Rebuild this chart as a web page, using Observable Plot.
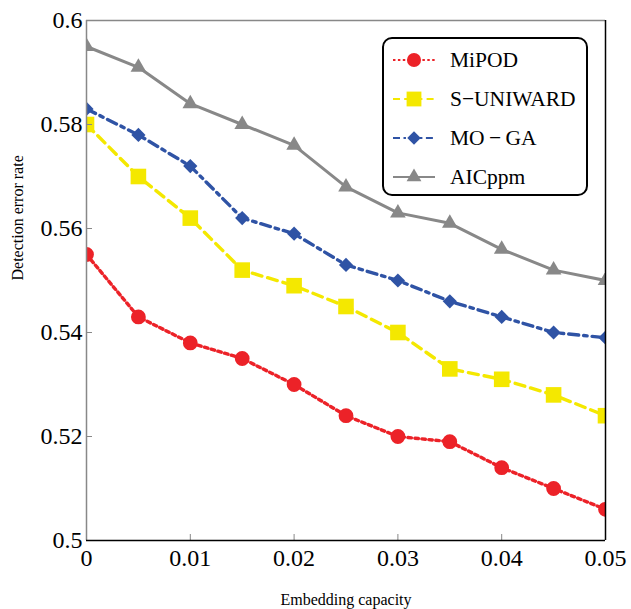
<!DOCTYPE html>
<html><head><meta charset="utf-8">
<script src="https://cdn.jsdelivr.net/npm/d3@7"></script>
<script src="https://cdn.jsdelivr.net/npm/@observablehq/plot@0.6"></script>
<style>
body{margin:0;background:#fff;}
#wrap{position:relative;width:631px;height:609px;}
#legend{position:absolute;left:382px;top:37px;width:202px;height:155px;border:2px solid #000;border-radius:10px;background:#fff;font-family:"Liberation Serif","Times New Roman",serif;font-size:21.5px;color:#000;}
.row{position:absolute;left:8px;height:24px;display:flex;align-items:center;}
.row svg{display:block;}
.row span{margin-left:14px;line-height:24px;}
</style>
</head><body>
<div id="wrap"><div id="chart"></div><div id="legend"></div></div>
<script>
// ---- data ----
const capacity = [0, 0.005, 0.01, 0.015, 0.02, 0.025, 0.03, 0.035, 0.04, 0.045, 0.05];
const mipod    = [0.555, 0.543, 0.538, 0.535, 0.530, 0.524, 0.520, 0.519, 0.514, 0.510, 0.506];
const suniward = [0.580, 0.570, 0.562, 0.552, 0.549, 0.545, 0.540, 0.533, 0.531, 0.528, 0.524];
const moga     = [0.583, 0.578, 0.572, 0.562, 0.559, 0.553, 0.550, 0.546, 0.543, 0.540, 0.539];
const aicppm   = [0.595, 0.591, 0.584, 0.580, 0.576, 0.568, 0.563, 0.561, 0.556, 0.552, 0.550];
const seriesNames = ["MiPOD", "S\u2212UNIWARD", "MO\u2009\u2212\u2009GA", "AICppm"];
const xTicks = [0, 0.01, 0.02, 0.03, 0.04, 0.05];
const yTicks = [0.5, 0.52, 0.54, 0.56, 0.58, 0.6];
const xDomain = [0, 0.05];
const yDomain = [0.5, 0.6];
const xLabel = "Embedding capacity";
const yLabel = "Detection error rate";

// ---- styles ----
const styles = [
  {name: seriesNames[0], values: mipod,    color: "#ec2228", dash: "3.5,3.5", symbol: "circle",   r: 7.4, sw: 3.4},
  {name: seriesNames[1], values: suniward, color: "#f4e800", dash: "10,6",    symbol: "square",   r: 8.8, sw: 3.4},
  {name: seriesNames[2], values: moga,     color: "#2f53a5", dash: "10,5,3.5,5", symbol: "diamond2", r: 6.4, sw: 3.4},
  {name: seriesNames[3], values: aicppm,   color: "#888888", dash: null,      symbol: "triangle", r: 5.8, sw: 3}
];

const rows = [];
styles.forEach(s => s.values.forEach((v, i) => rows.push({series: s.name, x: capacity[i], y: v})));

const marks = [];
for (const s of [...styles].reverse()) {
  const data = rows.filter(d => d.series === s.name);
  marks.push(Plot.line(data, {x: "x", y: "y", stroke: s.color, strokeWidth: s.sw, strokeDasharray: s.dash, clip: true}));
  marks.push(Plot.dot(data, {x: "x", y: "y", symbol: () => s.symbol, fill: s.color, stroke: "none", r: s.r, clip: true}));
}

const fmt = d3.format("~g");
const chart = Plot.plot({
  width: 631, height: 609,
  marginLeft: 86, marginRight: 26, marginTop: 20, marginBottom: 69,
  style: {fontFamily: "'Liberation Serif','Times New Roman',serif", background: "#fff"},
  symbol: {type: "identity"},
  x: {domain: xDomain},
  y: {domain: yDomain},
  marks: [
    ...marks,
    Plot.axisX({ticks: xTicks, tickSize: -6, tickPadding: 14, tickFormat: fmt, fontSize: 24, stroke: "#888", fill: "#000", label: null}),
    Plot.axisY({ticks: yTicks, tickSize: -6, tickPadding: 10, tickFormat: fmt, fontSize: 24, stroke: "#888", fill: "#000", label: null}),
    Plot.ruleX([xDomain[0]], {stroke: "#888", strokeWidth: 1.5}),
    Plot.ruleY([yDomain[1]], {stroke: "#888", strokeWidth: 1.5}),
    Plot.ruleX([xDomain[1]], {stroke: "#000", strokeWidth: 1.5}),
    Plot.ruleY([yDomain[0]], {stroke: "#000", strokeWidth: 1.5}),
    Plot.text([xLabel], {frameAnchor: "bottom", dy: 64, fontSize: 16, fill: "#000"}),
    Plot.text([yLabel], {frameAnchor: "left", dx: -69, rotate: -90, fontSize: 16, fill: "#000"})
  ]
});
document.getElementById("chart").appendChild(chart);

// ---- legend ----
const legend = document.getElementById("legend");
const symPath = {circle: d3.symbolCircle, square: d3.symbolSquare, diamond2: d3.symbolDiamond2, triangle: d3.symbolTriangle};
styles.forEach((s, i) => {
  const row = document.createElement("div");
  row.className = "row";
  row.style.top = (9 + i * 39) + "px";
  const svg = d3.create("svg").attr("width", 44).attr("height", 24);
  svg.append("line").attr("x1", 1).attr("x2", 43).attr("y1", 12).attr("y2", 12)
    .attr("stroke", s.color).attr("stroke-width", 2.2).attr("stroke-dasharray", s.dash ? s.dash.split(",").map(v => +v * 0.7).join(",") : null);
  svg.append("path").attr("transform", "translate(22,12)")
    .attr("d", d3.symbol(symPath[s.symbol], Math.PI * (s.r * 0.95) ** 2)()).attr("fill", s.color);
  row.appendChild(svg.node());
  const t = document.createElement("span");
  t.textContent = s.name;
  row.appendChild(t);
  legend.appendChild(row);
});
</script>
</body></html>
